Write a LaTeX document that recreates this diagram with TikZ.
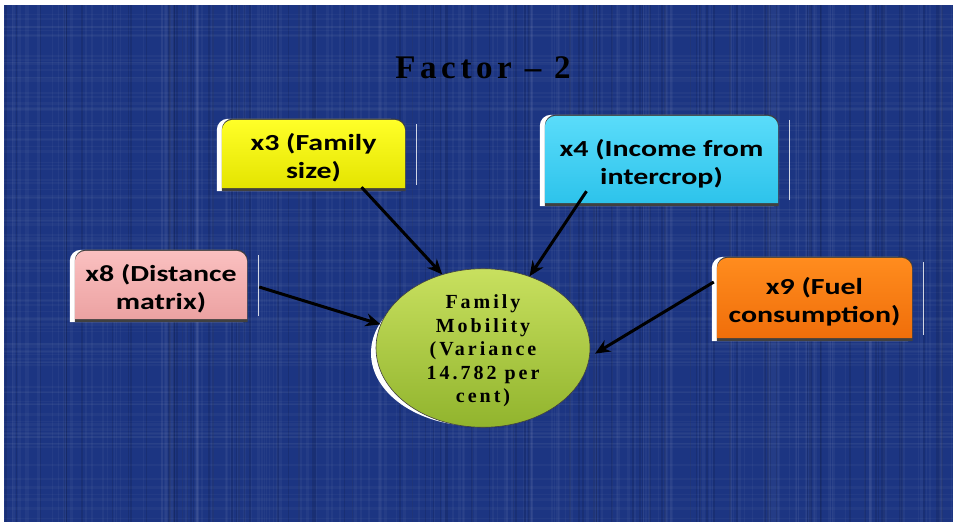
\documentclass[tikz,border=0pt]{standalone}
\usepackage{fontspec}
\setmainfont{Liberation Serif}
\newfontfamily\boxfont[FakeStretch=1.3]{Carlito}
\newfontfamily\titleserif[LetterSpace=14]{Liberation Serif}
\newfontfamily\ovalserif[LetterSpace=15]{Liberation Serif}
\usetikzlibrary{arrows.meta,shapes.geometric,backgrounds}

\definecolor{bgblue}{RGB}{28,53,130}
\definecolor{yelTop}{RGB}{255,255,40}
\definecolor{yelBot}{RGB}{228,228,0}
\definecolor{cyaTop}{RGB}{90,220,250}
\definecolor{cyaBot}{RGB}{45,195,235}
\definecolor{pnkTop}{RGB}{250,192,192}
\definecolor{pnkBot}{RGB}{236,162,162}
\definecolor{orgTop}{RGB}{255,140,30}
\definecolor{orgBot}{RGB}{240,110,10}
\definecolor{grnTop}{RGB}{200,224,95}
\definecolor{grnBot}{RGB}{145,180,45}

\tikzset{
  factorbox/.style={rectangle, draw=none, inner sep=0pt, align=center,
    font=\boxfont\bfseries\fontsize{23}{28}\selectfont},
  conn/.style={-{Stealth[length=15pt,width=13pt]}, line width=3pt, black},
  artline/.style={white, opacity=0.8, line width=1pt}
}

\begin{document}
\begin{tikzpicture}[x=1pt,y=-1pt]
\useasboundingbox (0,0) rectangle (961,527);

% title
\node[font=\titleserif\bfseries\fontsize{33}{38}\selectfont] (title) at (483,68) {Factor \textendash\ 2};

% factor boxes (text only; their panels go on the background layer,
% raised 4pt above the node so the text sits a little low in them)
\node[factorbox, minimum width=183pt, minimum height=68pt] (x3) at (313.5,158) {x3 (Family\\size)};
\node[factorbox, minimum width=233pt, minimum height=87pt] (x4) at (661.5,163.5) {x4 (Income from\\intercrop)};
\node[factorbox, minimum width=172pt, minimum height=68pt] (x8) at (161,289) {x8 (Distance\\matrix)};
\node[factorbox, minimum width=195pt, minimum height=80pt] (x9) at (814.5,302) {x9 (Fuel\\consumption)};

% central factor
\node[ellipse, minimum width=214pt, minimum height=150pt, inner sep=0pt,
      draw=black!75, line width=0.6pt, top color=grnTop, bottom color=grnBot,
      align=center, font=\ovalserif\bfseries\fontsize{20}{23.5}\selectfont]
  (mob) at (483,348) {\raisebox{-3pt}[\height][\depth]{\parbox{150pt}{\centering Family\\Mobility\\(Variance\\14.782 per\\cent)}}};

\begin{scope}[on background layer]
  % textured slide background
  \fill[white] (0,0) rectangle (961,527);
  \fill[bgblue] (4,5) rectangle (953,522);
  \pgfmathsetseed{17}
  \foreach \i in {1,...,170}{
    \pgfmathsetmacro\xx{4+rnd*948}
    \pgfmathsetmacro\ww{0.6+rnd*2.4}
    \draw[white, opacity=0.035, line width=\ww pt] (\xx,5) -- (\xx,522);
  }
  \foreach \i in {1,...,110}{
    \pgfmathsetmacro\yy{5+rnd*516}
    \pgfmathsetmacro\ww{0.6+rnd*2}
    \draw[white, opacity=0.03, line width=\ww pt] (4,\yy) -- (953,\yy);
  }
  \foreach \i in {1,...,90}{
    \pgfmathsetmacro\xx{4+rnd*948}
    \draw[black, opacity=0.10, line width=1.5pt] (\xx,5) -- (\xx,522);
  }

  % box panels: white offset edge, dark rim, shaded body
  \foreach \n/\ct/\cb in {x3/yelTop/yelBot, x4/cyaTop/cyaBot, x8/pnkTop/pnkBot, x9/orgTop/orgBot}{
    \fill[white] ([shift={(-5pt,1pt)}]\n.south west) [rounded corners=11pt]
      -- ([shift={(-5pt,5pt)}]\n.north west) -- ([shift={(-4pt,5pt)}]\n.north east)
      [sharp corners] -- ([shift={(-4pt,1pt)}]\n.south east) -- cycle;
    \fill[black!75] ([shift={(0pt,1pt)}]\n.south west) [rounded corners=11pt]
      -- ([shift={(0pt,5.2pt)}]\n.north west) -- ([shift={(0.5pt,5.2pt)}]\n.north east)
      [sharp corners] -- ([shift={(0.5pt,1pt)}]\n.south east) -- cycle;
    \shade[top color=\ct, bottom color=\cb] ([yshift=4pt]\n.south west) [rounded corners=11pt]
      -- ([yshift=4pt]\n.north west) -- ([yshift=4pt]\n.north east) [sharp corners]
      -- ([yshift=4pt]\n.south east) -- cycle;
    \draw[artline] ([xshift=11pt,yshift=7pt]\n.south east) -- ([xshift=11pt]\n.north east);
  }

  % white offset behind the ellipse
  \fill[white] ([shift={(-7pt,-5pt)}]mob.center) ellipse [x radius=105pt, y radius=73pt];
\end{scope}

% connectors
\draw[conn] ([xshift=48pt,yshift=5pt]x3.south) -- (mob.119);
\draw[conn] ([xshift=-75pt,yshift=16pt]x4.south) -- (mob.57);
\draw[conn] ([xshift=12pt,yshift=2pt]x8.east) -- (mob.167);
\draw[conn] ([xshift=-3pt,yshift=20pt]x9.west) -- ([xshift=5pt]mob.-3);
\end{tikzpicture}
\end{document}
